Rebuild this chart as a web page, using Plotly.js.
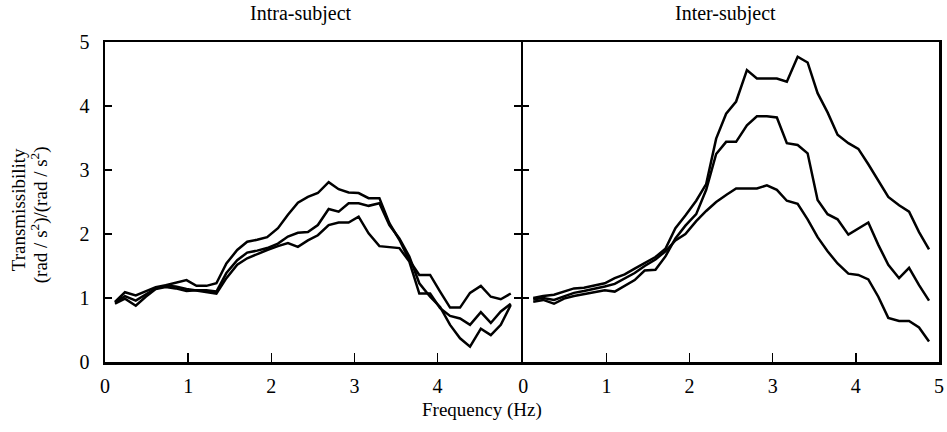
<!DOCTYPE html>
<html>
<head>
<meta charset="utf-8">
<script src="https://cdn.plot.ly/plotly-3.0.1.min.js"></script>
<style>
  html, body { margin: 0; padding: 0; background: #fff; }
  #chart { width: 947px; height: 432px; }
</style>
</head>
<body>
<div id="chart"></div>
<script>
// Frequency bins (Hz) shared by every transmissibility curve
const freq = [0.12, 0.24, 0.37, 0.49, 0.61, 0.73, 0.85, 0.98, 1.10, 1.22,
              1.34, 1.46, 1.59, 1.71, 1.83, 1.95, 2.08, 2.20, 2.32, 2.44,
              2.56, 2.69, 2.81, 2.93, 3.05, 3.17, 3.30, 3.42, 3.54, 3.66,
              3.78, 3.91, 4.03, 4.15, 4.27, 4.39, 4.52, 4.64, 4.76, 4.88];

// Intra-subject: three repeated measurements
const intraA = [0.94, 1.09, 1.04, 1.10, 1.17, 1.20, 1.24, 1.28, 1.19, 1.19,
                1.23, 1.54, 1.75, 1.88, 1.91, 1.95, 2.09, 2.30, 2.49, 2.58,
                2.64, 2.81, 2.70, 2.65, 2.64, 2.56, 2.56, 2.17, 1.91, 1.59,
                1.36, 1.36, 1.10, 0.85, 0.85, 1.08, 1.19, 1.02, 0.98, 1.07];
const intraB = [0.91, 0.99, 0.88, 1.02, 1.14, 1.17, 1.15, 1.11, 1.12, 1.12,
                1.10, 1.39, 1.59, 1.71, 1.74, 1.78, 1.85, 1.96, 2.02, 2.03,
                2.14, 2.39, 2.35, 2.48, 2.48, 2.44, 2.48, 2.14, 1.93, 1.65,
                1.23, 1.02, 0.86, 0.58, 0.37, 0.24, 0.52, 0.42, 0.58, 0.89];
const intraC = [0.93, 1.03, 0.96, 1.05, 1.15, 1.19, 1.18, 1.14, 1.12, 1.10,
                1.07, 1.31, 1.52, 1.62, 1.69, 1.75, 1.81, 1.86, 1.80, 1.90,
                1.98, 2.14, 2.18, 2.18, 2.27, 2.01, 1.81, 1.79, 1.78, 1.57,
                1.07, 1.07, 0.84, 0.72, 0.68, 0.58, 0.78, 0.61, 0.79, 0.91];

// Inter-subject: three different subjects
const interA = [1.00, 1.03, 1.05, 1.10, 1.15, 1.16, 1.19, 1.23, 1.31, 1.37,
                1.46, 1.55, 1.64, 1.77, 2.09, 2.29, 2.52, 2.78, 3.49, 3.88,
                4.07, 4.56, 4.43, 4.43, 4.43, 4.38, 4.77, 4.68, 4.20, 3.90,
                3.55, 3.42, 3.33, 3.09, 2.83, 2.58, 2.45, 2.35, 2.03, 1.76];
const interB = [0.94, 0.97, 0.91, 0.99, 1.03, 1.06, 1.09, 1.12, 1.10, 1.19,
                1.28, 1.43, 1.44, 1.65, 1.93, 2.13, 2.31, 2.69, 3.25, 3.44,
                3.44, 3.70, 3.84, 3.84, 3.82, 3.42, 3.39, 3.26, 2.53, 2.31,
                2.23, 1.99, 2.08, 2.18, 1.83, 1.52, 1.31, 1.47, 1.20, 0.96];
const interC = [0.98, 1.00, 0.97, 1.03, 1.08, 1.11, 1.14, 1.18, 1.22, 1.30,
                1.39, 1.50, 1.60, 1.73, 1.90, 2.00, 2.20, 2.36, 2.50, 2.61,
                2.71, 2.71, 2.71, 2.76, 2.69, 2.52, 2.47, 2.23, 1.95, 1.73,
                1.54, 1.38, 1.36, 1.29, 1.02, 0.69, 0.64, 0.64, 0.54, 0.32];

const leftTicks = [0, 1, 2, 3, 4];
const rightTicks = [0, 1, 2, 3, 4, 5];
const yTicks = [0, 1, 2, 3, 4, 5];

const FONT = '"Liberation Serif", "Times New Roman", Times, serif';
const TXT = 20;
const LW = 2.5;
// half an axis line, in paper units, so the two panels share one divider line
const GAP = (LW / 2) / 834;

function curve(y, xa, ya) {
  return { x: freq, y: y, xaxis: xa, yaxis: ya, type: 'scatter', mode: 'lines',
           line: { color: '#000', width: 2.5 }, showlegend: false, hoverinfo: 'skip' };
}

const data = [
  curve(intraA, 'x', 'y'), curve(intraB, 'x', 'y'), curve(intraC, 'x', 'y'),
  curve(interA, 'x2', 'y2'), curve(interB, 'x2', 'y2'), curve(interC, 'x2', 'y2')
];

const xBase = {
  range: [0, 5], ticks: 'inside', ticklen: 9, tickwidth: 1.5, tickcolor: '#000',
  showline: true, linewidth: LW, linecolor: '#000', mirror: true,
  showgrid: false, zeroline: false, fixedrange: true,
  tickfont: { family: FONT, size: TXT, color: '#000' }, ticklabelstandoff: 4
};

const layout = {
  width: 947, height: 432,
  margin: { l: 105, r: 8, t: 42, b: 70 },
  paper_bgcolor: '#fff', plot_bgcolor: '#fff',
  font: { family: FONT, size: TXT, color: '#000' },
  xaxis: Object.assign({}, xBase, { domain: [0, 0.5 - GAP], anchor: 'y',
    tickvals: leftTicks, ticktext: leftTicks.map(String) }),
  xaxis2: Object.assign({}, xBase, { domain: [0.5 + GAP, 1], anchor: 'y2',
    tickvals: rightTicks, ticktext: rightTicks.map(String) }),
  yaxis: {
    domain: [0, 1], anchor: 'x', range: [0, 5], tickvals: yTicks,
    ticktext: yTicks.map(String), ticks: 'inside', ticklen: 7, tickwidth: 1.5,
    tickcolor: '#000', showline: true, linewidth: LW, linecolor: '#000',
    mirror: 'ticks', showgrid: false, zeroline: false, fixedrange: true,
    tickfont: { family: FONT, size: TXT, color: '#000' }, ticklabelstandoff: 9
  },
  yaxis2: {
    domain: [0, 1], anchor: 'x2', range: [0, 5], tickvals: yTicks,
    ticks: 'inside', ticklen: 6, tickwidth: 1.5, tickcolor: '#000',
    showticklabels: false, showline: true, linewidth: LW, linecolor: '#000',
    mirror: true, showgrid: false, zeroline: false, fixedrange: true
  },
  annotations: [
    { text: 'Intra-subject', xref: 'paper', yref: 'paper', x: 0.235, y: 1.088,
      xanchor: 'center', yanchor: 'middle', showarrow: false, font: { family: FONT, size: TXT } },
    { text: 'Inter-subject', xref: 'paper', yref: 'paper', x: 0.744, y: 1.088,
      xanchor: 'center', yanchor: 'middle', showarrow: false, font: { family: FONT, size: TXT } },
    { text: 'Frequency (Hz)', xref: 'paper', yref: 'paper', x: 0.452, y: -0.149,
      xanchor: 'center', yanchor: 'middle', showarrow: false, font: { family: FONT, size: 19 } },
    { text: 'Transmissibility', xref: 'paper', yref: 'paper', x: -0.104, y: 0.475,
      xanchor: 'center', yanchor: 'middle', textangle: -90, showarrow: false,
      font: { family: FONT, size: 19 } },
    { text: '(rad / s<sup>2</sup>)/(rad / s<sup>2</sup>)', xref: 'paper', yref: 'paper',
      x: -0.079, y: 0.459, xanchor: 'center', yanchor: 'middle', textangle: -90,
      showarrow: false, font: { family: FONT, size: 19 } }
  ]
};

Plotly.newPlot('chart', data, layout, { staticPlot: true, displayModeBar: false });
</script>
</body>
</html>
